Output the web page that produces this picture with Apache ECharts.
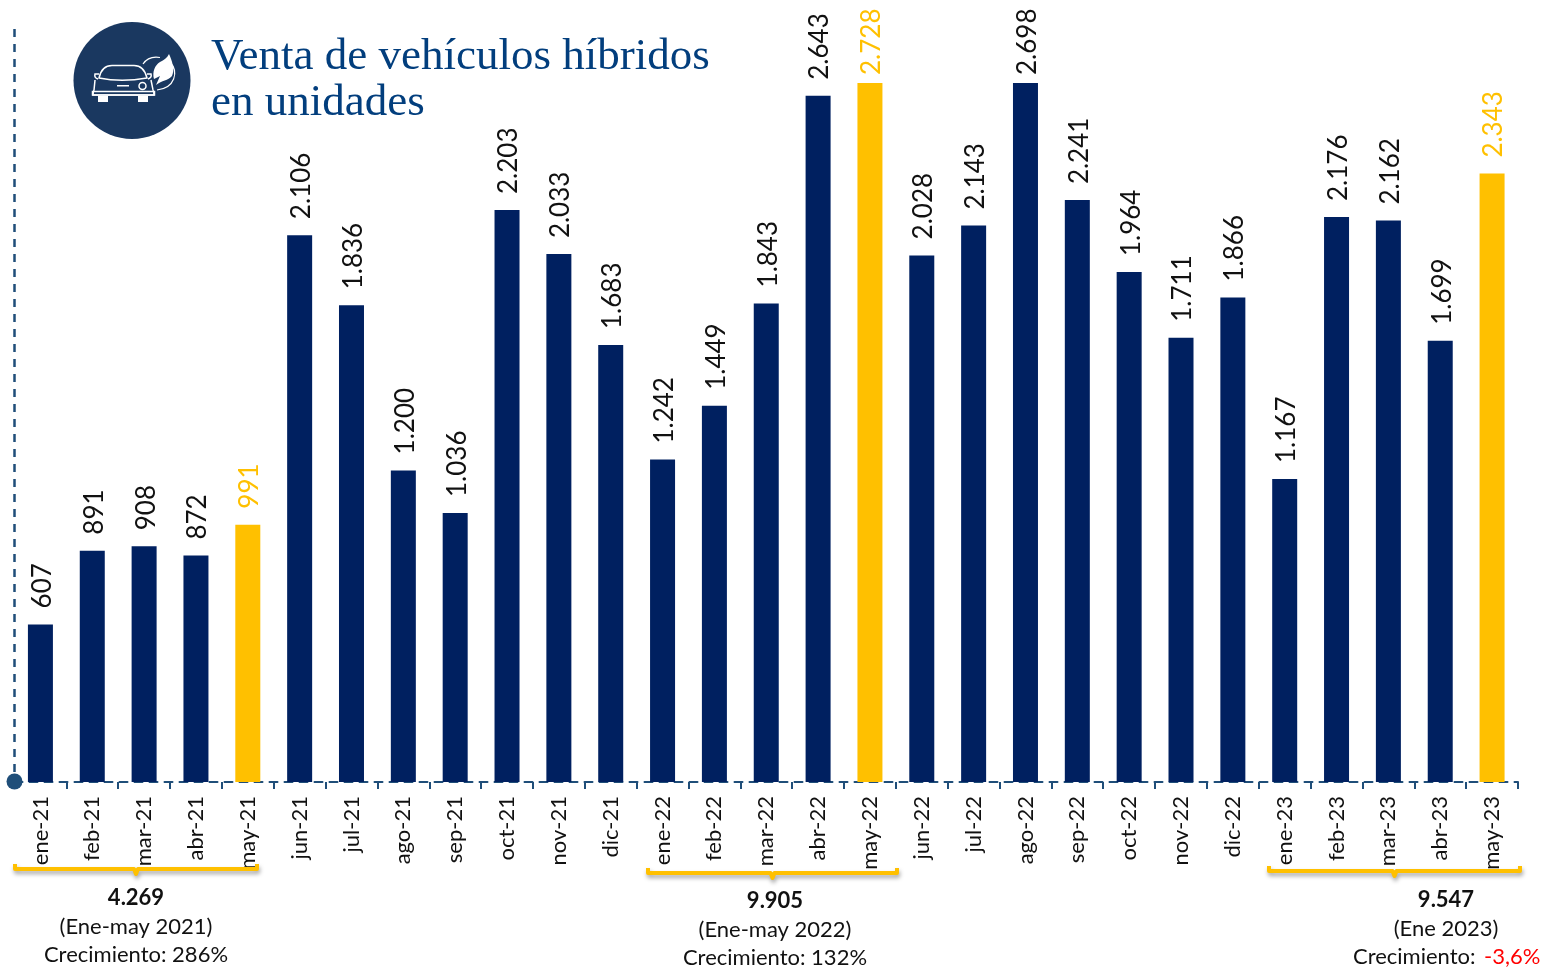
<!DOCTYPE html>
<html><head><meta charset="utf-8">
<script src="https://cdn.jsdelivr.net/npm/echarts@6/dist/echarts.min.js"></script>
<style>html,body{margin:0;padding:0;background:#fff}#c{width:1543px;height:968px}</style>
</head><body><div id="c"></div>
<script>
const categories = ['ene-21','feb-21','mar-21','abr-21','may-21','jun-21','jul-21','ago-21','sep-21','oct-21','nov-21','dic-21','ene-22','feb-22','mar-22','abr-22','may-22','jun-22','jul-22','ago-22','sep-22','oct-22','nov-22','dic-22','ene-23','feb-23','mar-23','abr-23','may-23'];
const values = [607,891,908,872,991,2106,1836,1200,1036,2203,2033,1683,1242,1449,1843,2643,2728,2028,2143,2698,2241,1964,1711,1866,1167,2176,2162,1699,2343];
const highlighted = ['may-21','may-22','may-23'];
const axisMax = 2692;
const titleLines = 'Venta de vehículos híbridos\nen unidades';
const summaries = [
  {total:'4.269', period:'(Ene-may 2021)', growth:'Crecimiento: 286%', x:136, y:897, from:14, to:258, by:868},
  {total:'9.905', period:'(Ene-may 2022)', growth:'Crecimiento: 132%', x:775, y:900, from:647, to:898, by:872},
  {total:'9.547', period:'(Ene 2023)', growth:'Crecimiento: ', neg:'-3,6%', x:1446, y:899, from:1268, to:1521, by:870}
];
const NAVY='#002060', GOLD='#FFC000', STEEL='#1F4E79', FONT='Lato, "Open Sans", sans-serif';
const fmt = v => String(v).replace(/\B(?=(\d{3})+$)/g,'.');

const iconSvg = `<svg xmlns="http://www.w3.org/2000/svg" width="117" height="117" viewBox="73.5 22 117 117"><g fill="none" stroke="#fff" stroke-width="1.5">
<path d="M99 78 C101 69 106 65.500 112 65.500 L134 65.500 C141 65.500 145 70 147 78 C130 81 114 81 99 78 Z"/>
<path d="M99 74 L95 74 Q94 78 98 79 M147 74 L151 74 Q152 78 148 79"/>
<path d="M95 80 L94 90 Q93 92 93 95 L154 95 Q154 91 153 90 L151 80"/>
<rect x="92.500" y="91.500" width="62" height="3.500"/>
<circle cx="142.500" cy="86" r="3.500"/>
<path stroke-width="1.200" d="M143 64 C147 58 154 56.500 160 57.500 M170 62 C179 72 175 88 157 90"/></g>
<g fill="#fff"><rect x="98" y="96" width="10" height="6"/><rect x="138" y="96" width="10" height="6"/><rect x="117" y="85" width="12" height="1.500"/>
<path d="M169 54 C172 60 175 70 172 76 C168 81 162 80 156 85 L160 76 L154 79 C152 72 155 65 160 62 C164 60 167 58 169 54 Z"/></g></svg>`;

const g = [];
g.push({type:'line',shape:{x1:14.5,y1:29,x2:14.5,y2:782},style:{stroke:STEEL,lineWidth:2.5,lineDash:[8,7]},z:5});
g.push({type:'circle',shape:{cx:14.5,cy:781.5,r:8},style:{fill:STEEL},z:6});
g.push({type:'circle',shape:{cx:132,cy:80.5,r:58.5},style:{fill:'#1A3860'},z:6});
g.push({type:'image',x:73.5,y:22,style:{image:'data:image/svg+xml;charset=utf-8,'+encodeURIComponent(iconSvg),width:117,height:117},z:7});
g.push({type:'text',x:211,y:34,style:{text:titleLines,font:'45px "Liberation Serif", serif',lineHeight:46,fill:'#023E7D'},z:6});
summaries.forEach(s=>{
  const mid=s.x;
  const braceMid=(s.from+s.to)/2;
  g.push({type:'polyline',shape:{points:[[s.from+1,s.by-4],[s.from+1,s.by+1],[braceMid-2,s.by+1],[braceMid,s.by+6],[braceMid+2,s.by+1],[s.to-1,s.by+1],[s.to-1,s.by-4]]},
    style:{fill:null,stroke:GOLD,lineWidth:4,lineJoin:'round',shadowColor:'rgba(0,0,0,0.35)',shadowBlur:4,shadowOffsetX:1,shadowOffsetY:3},z:8});
  g.push({type:'text',x:mid,y:s.y+1,style:{text:s.total,font:'bold 22px '+FONT,fill:'#111',align:'center',verticalAlign:'middle'},z:6});
  g.push({type:'text',x:mid,y:s.y+30,style:{text:s.period,font:'22px '+FONT,fill:'#111',align:'center',verticalAlign:'middle'},z:6});
  if(s.neg){
    g.push({type:'text',x:1353,y:s.y+58,style:{text:s.growth,font:'22px '+FONT,fill:'#111',align:'left',verticalAlign:'middle'},z:6});
    g.push({type:'text',x:1484,y:s.y+58,style:{text:s.neg,font:'22px '+FONT,fill:'#FF0000',align:'left',verticalAlign:'middle'},z:6});
  } else {
    g.push({type:'text',x:mid,y:s.y+58,style:{text:s.growth,font:'22px '+FONT,fill:'#111',align:'center',verticalAlign:'middle'},z:6});
  }
});

const chart = echarts.init(document.getElementById('c'),null,{renderer:'canvas'});
chart.setOption({
  animation:false,
  backgroundColor:'#fff',
  grid:{left:14.5,right:25,top:83,bottom:186,containLabel:false},
  xAxis:{type:'category',data:categories,
    axisLine:{show:true,lineStyle:{color:STEEL,width:2,type:[8,7]}},
    axisTick:{show:true,length:7,alignWithLabel:false,lineStyle:{color:STEEL,width:2}},
    axisLabel:{rotate:90,interval:0,color:'#111',fontFamily:FONT,fontSize:22,margin:14}},
  yAxis:{type:'value',min:0,max:axisMax,show:false},
  series:[{type:'bar',data:values.map((v,i)=>({value:v,
      itemStyle:{color:highlighted.includes(categories[i])?GOLD:NAVY},
      label:{color:highlighted.includes(categories[i])?GOLD:'#111',distance:v>axisMax?8:16}})),
    barWidth:25,clip:true,
    label:{show:true,position:'top',rotate:90,align:'left',verticalAlign:'middle',offset:[0,2],fontFamily:FONT,fontSize:26,formatter:p=>fmt(p.value)}}],
  graphic:g
});
</script></body></html>
